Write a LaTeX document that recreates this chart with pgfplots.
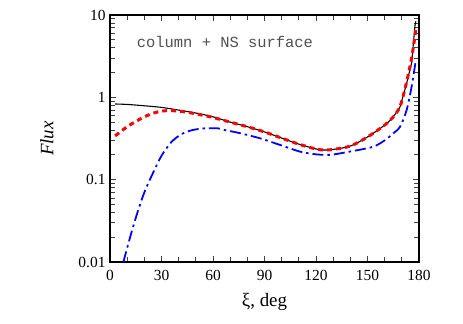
\documentclass[border=0pt]{standalone}
\usepackage{fontspec}
\setmainfont{Liberation Serif}
\setmonofont{Liberation Mono}
\usepackage{pgfplots}
\pgfplotsset{compat=1.18}
\definecolor{annot}{HTML}{505050}

\begin{document}
\begin{tikzpicture}
\useasboundingbox (0,0) rectangle (463bp,324bp);
\begin{axis}[
  at={(110bp,62bp)}, anchor=south west,
  scale only axis, width=309bp, height=247bp,
  xmin=0, xmax=180, ymin=0.01, ymax=10,
  ymode=log, log basis y=10,
  xtick={0,30,...,180}, minor xtick={10,20,40,50,70,80,100,110,130,140,160,170},
  ytick={0.01,0.1,1,10}, yticklabels={0.01,0.1,1,10},
  minor ytick={0.02,0.03,0.04,0.05,0.06,0.07,0.08,0.09,0.2,0.3,0.4,0.5,0.6,0.7,0.8,0.9,2,3,4,5,6,7,8,9},
  tick align=inside, major tick length=6bp, minor tick length=5bp,
  tick style={line width=0.8pt, black!75},
  axis line style={line width=1.6pt},
  /pgf/number format/assume math mode=true,
  tick label style={font=\fontsize{15.5}{15.5}\selectfont},
  xticklabel style={yshift=-5bp},
  yticklabel style={xshift=-1bp},
  label style={font=\fontsize{19}{19}\selectfont},
  xlabel={ξ, deg}, ylabel={\textit{Flux}},
  x label style={at={(axis description cs:0.5,-0.181)}, anchor=base},
  y label style={at={(axis description cs:-0.204,0.5)}, anchor=center},
  clip=true,
]
\addplot[black, line width=1.1pt, smooth] coordinates {
(3,0.83)(10,0.82)(20,0.79)(30,0.755)(40,0.70)(50,0.645)(60,0.58)(70,0.50)
(80,0.44)(90,0.38)(100,0.32)(110,0.27)(120,0.236)(125,0.229)(130,0.233)
(140,0.256)(150,0.33)(160,0.46)(165,0.58)(169,0.77)};
\addplot[black, line width=1.1pt] coordinates {
(169,0.77)(172.5,1.4)(175.7,2.6)(177.7,7.6)(178.2,8.4)};
\addplot[red, line width=3pt, dash pattern=on 5pt off 4pt, smooth] coordinates {
(3,0.34)(10,0.44)(16.5,0.53)(20,0.58)(25,0.64)(30,0.68)(35,0.69)(40,0.68)
(45,0.66)(50,0.63)(55,0.60)(60,0.57)(70,0.50)(80,0.44)(90,0.38)(100,0.32)
(110,0.27)(120,0.236)(125,0.229)(130,0.233)(140,0.256)(150,0.33)(160,0.46)
(165,0.58)(169,0.78)(172.5,1.45)(175.7,3.0)(177.5,5.3)(178.3,7.0)};
\addplot[blue, line width=1.8pt, dash pattern=on 11pt off 4pt on 2.5pt off 4pt, smooth] coordinates {
(7.8,0.01)(12,0.021)(16,0.040)(20,0.070)(25,0.120)(30,0.195)(36,0.29)
(42,0.36)(48,0.40)(55,0.42)(63,0.42)(67,0.40)(75,0.37)
(87.4,0.318)(100,0.26)(110.7,0.219)(120,0.203)(126,0.2)(130,0.202)
(140,0.22)(153,0.25)(160,0.30)(166,0.38)(169,0.44)(172.8,0.70)
(175.7,1.35)(178,2.7)};
\node[font=\ttfamily\fontsize{15.5}{15.5}\selectfont, text=annot]
  at (rel axis cs:0.372,0.89) {column + NS surface};
\end{axis}
\end{tikzpicture}
\end{document}
